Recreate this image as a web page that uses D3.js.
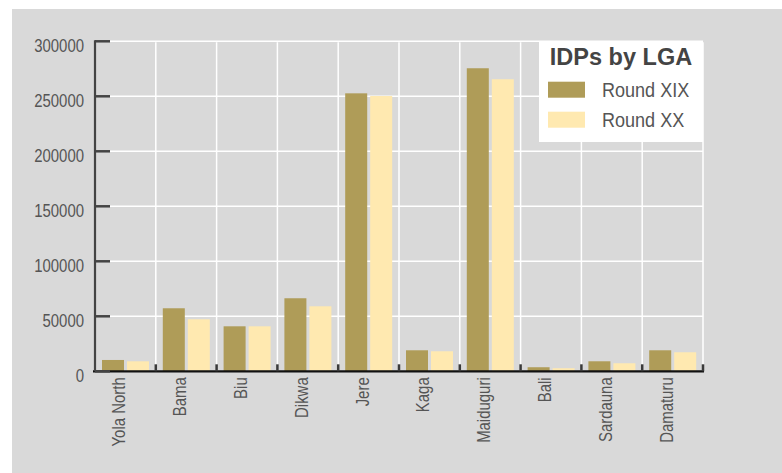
<!DOCTYPE html>
<html>
<head>
<meta charset="utf-8">
<script src="https://cdn.jsdelivr.net/npm/d3@7"></script>
<style>
  body { margin: 0; background: #fff; }
  svg { display: block; }
  .lbl { font-family: "Liberation Sans", Arial, sans-serif; fill: #555; }
</style>
</head>
<body>
<svg id="chart"></svg>
<script>
var lgas = ["Yola North", "Bama", "Biu", "Dikwa", "Jere", "Kaga", "Maiduguri", "Bali", "Sardauna", "Damaturu"];
var roundXIX = [10300, 57300, 40900, 66400, 252700, 19100, 275500, 3700, 9100, 19100];
var roundXX = [9100, 47300, 40900, 59100, 250300, 18200, 265500, 2800, 7300, 17300];
var seriesNames = ["Round XIX", "Round XX"];
var seriesColors = ["#af9c58", "#ffe9b0"];
var yTicks = [0, 50000, 100000, 150000, 200000, 250000, 300000];

var width = 782, height = 473;
var plotLeft = 95, plotRight = 703, plotTop = 41.3, plotBottom = 371.3;
var squeeze = 0.83;

var svg = d3.select("#chart").attr("width", width).attr("height", height);

svg.append("rect")
    .attr("x", 12).attr("y", 9)
    .attr("width", width - 12).attr("height", height - 9)
    .attr("fill", "#d9d9d9");

var xScale = d3.scaleBand().domain(lgas).range([plotLeft, plotRight]);
var inner = d3.scaleBand().domain(seriesNames)
    .range([7, xScale.bandwidth() - 6.8]).paddingInner(0.12);
var yScale = d3.scaleLinear().domain([0, 300000]).range([plotBottom, plotTop]);

var rows = lgas.map((d, i) => ({ lga: d, vals: [roundXIX[i], roundXX[i]] }));

// grid
svg.append("g")
    .selectAll("line")
    .data(yTicks.slice(1))
    .enter()
    .append("line")
        .attr("x1", plotLeft + 15).attr("x2", plotRight)
        .attr("y1", d => yScale(d)).attr("y2", d => yScale(d))
        .attr("stroke", "#fff").attr("stroke-width", 1.5);

var bounds = lgas.slice(1).map(d => xScale(d)).concat([plotRight]);
svg.append("g")
    .selectAll("line")
    .data(bounds)
    .enter()
    .append("line")
        .attr("x1", d => d).attr("x2", d => d)
        .attr("y1", plotTop + 1).attr("y2", plotBottom)
        .attr("stroke", "#fff").attr("stroke-width", 1.5);

// bars
svg.append("g")
    .selectAll("g")
    .data(rows)
    .enter()
    .append("g")
        .attr("transform", d => "translate(" + xScale(d.lga) + ",0)")
    .selectAll("rect")
    .data(d => d.vals.map((v, j) => ({ name: seriesNames[j], v: v, j: j })))
    .enter()
    .append("rect")
        .attr("x", d => inner(d.name))
        .attr("width", inner.bandwidth())
        .attr("y", d => yScale(d.v))
        .attr("height", d => plotBottom - yScale(d.v))
        .attr("fill", d => seriesColors[d.j]);

// x axis
svg.append("line")
    .attr("x1", plotLeft - 2).attr("x2", plotRight + 1)
    .attr("y1", plotBottom).attr("y2", plotBottom)
    .attr("stroke", "#111").attr("stroke-width", 2.2);
svg.append("g")
    .selectAll("line")
    .data(bounds)
    .enter()
    .append("line")
        .attr("x1", d => d).attr("x2", d => d)
        .attr("y1", plotBottom - 7).attr("y2", plotBottom)
        .attr("stroke", "#3a3a3a").attr("stroke-width", 2.5);

svg.append("g")
    .selectAll("text")
    .data(lgas)
    .enter()
    .append("text")
        .attr("class", "lbl")
        .attr("transform", d => "translate(" + (xScale(d) + xScale.bandwidth() / 2) + "," + (plotBottom + 6) + ") rotate(-90) scale(" + squeeze + ",1)")
        .attr("text-anchor", "end")
        .style("font-size", "18px")
        .text(d => d);

// y axis
svg.append("line")
    .attr("x1", plotLeft).attr("x2", plotLeft)
    .attr("y1", plotTop - 1).attr("y2", plotBottom)
    .attr("stroke", "#444").attr("stroke-width", 2.2);
var yt = svg.append("g")
    .selectAll("g")
    .data(yTicks)
    .enter()
    .append("g")
        .attr("transform", d => "translate(0," + yScale(d) + ")");
yt.append("line")
    .attr("x1", plotLeft).attr("x2", plotLeft + 15)
    .attr("stroke", "#444").attr("stroke-width", 2.5);
yt.append("text")
    .attr("class", "lbl")
    .attr("transform", "translate(" + (plotLeft - 11) + ",11) scale(" + squeeze + ",1)")
    .attr("text-anchor", "end")
    .style("font-size", "18px")
    .text(d => d);

// legend
var lg = svg.append("g").attr("transform", "translate(539,41)");
lg.append("rect")
    .attr("width", 164).attr("height", 101)
    .attr("fill", "#fff");
lg.append("text")
    .attr("x", 82).attr("y", 23.5)
    .attr("text-anchor", "middle")
    .style("font-family", "'Liberation Sans', Arial, sans-serif")
    .style("font-weight", "bold")
    .style("font-size", "23.5px")
    .style("fill", "#444")
    .text("IDPs by LGA");
var items = lg.selectAll(".item")
    .data(seriesNames)
    .enter()
    .append("g")
        .attr("transform", (d, i) => "translate(9," + (40.7 + i * 30) + ")");
items.append("rect")
    .attr("width", 37).attr("height", 16)
    .attr("fill", (d, i) => seriesColors[i]);
items.append("text")
    .attr("class", "lbl")
    .attr("transform", "translate(54,15.5) scale(0.88,1)")
    .style("font-size", "20.5px")
    .text(d => d);
</script>
</body>
</html>
